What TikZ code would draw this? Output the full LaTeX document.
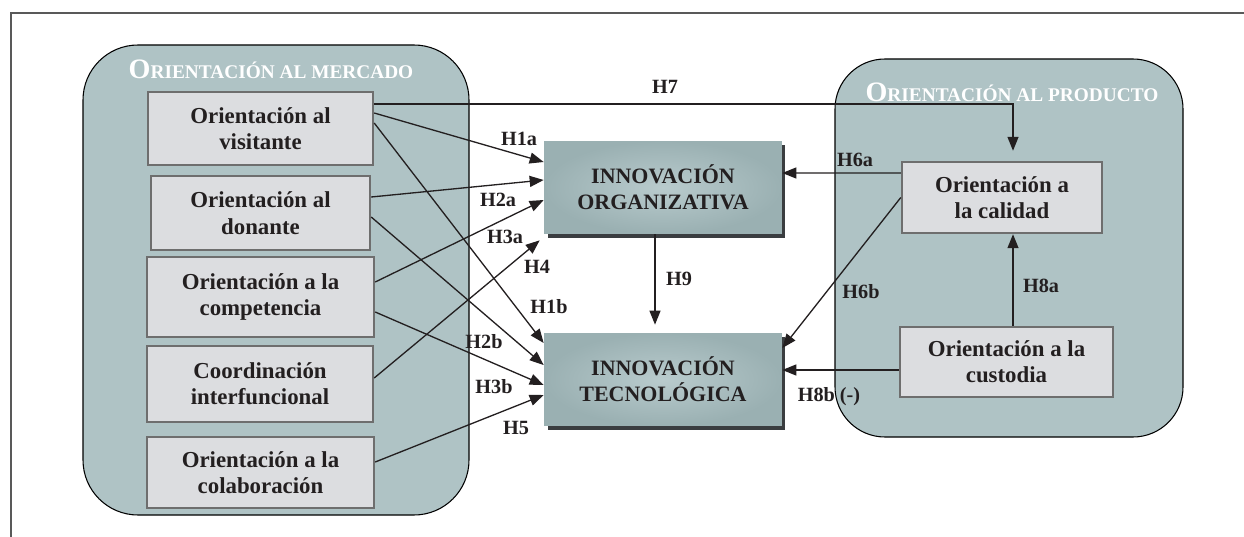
\documentclass[tikz,border=0pt]{standalone}
\usepackage{fontspec}
\setmainfont{Liberation Serif}
\usetikzlibrary{arrows.meta,shadows}
\definecolor{regfill}{HTML}{AFC3C5}
\definecolor{boxfill}{HTML}{DCDDE0}
\definecolor{boxline}{HTML}{6E6E6E}
\definecolor{innin}{HTML}{B9CBCD}
\definecolor{innout}{HTML}{9AB0B2}
\definecolor{shade}{HTML}{3A3D40}
\definecolor{ink}{HTML}{231F20}
\def\titulo#1#2{{\fontsize{16}{18}\selectfont #1}{\fontsize{11}{13}\selectfont #2}}

\begin{document}
\begin{tikzpicture}[x=0.02cm,y=-0.02cm,
		factor/.style={draw=boxline, line width=1.4pt, fill=boxfill, align=center, text=ink, font=\bfseries\fontsize{13}{15}\selectfont, inner sep=0pt},
		innov/.style={inner color=innin, outer color=innout, align=center, text=ink, font=\bfseries\fontsize{12.5}{15}\selectfont, minimum width=4.76cm, minimum height=1.86cm, drop shadow={shadow xshift=0.07cm, shadow yshift=-0.08cm, fill=shade, opacity=1}},
		hyp/.style={text=ink, font=\bfseries\fontsize{11.5}{13}\selectfont, inner sep=0pt},
		link/.style={draw=ink, line width=0.75pt, -{Triangle[length=0.28cm,width=0.22cm]}},
		region/.style={draw=black, line width=0.6pt, fill=regfill}]
		%%%%% START %%%%%
		\useasboundingbox (0,0) rectangle (1244,537);
		\draw[black!65, line width=0.85pt] (11,537) -- (11,13) -- (1244,13);
		
		% the two groups
		\draw[region, rounded corners=1.1cm] (83,45) rectangle (469,515);
		\draw[region, rounded corners=1cm] (835,59) rectangle (1183,437);
		\node[text=white, anchor=base, font=\bfseries] (tmerc) at (271,79) {\titulo{O}{RIENTACIÓN AL MERCADO}};
		\node[text=white, anchor=base, font=\bfseries] (tprod) at (1012,102) {\titulo{O}{RIENTACIÓN AL PRODUCTO}};
		
		\node[factor, minimum width=4.5cm, minimum height=1.46cm] (vis) at (260.5,128.5) {Orientación al\\visitante};
		\node[factor, minimum width=4.38cm, minimum height=1.48cm] (don) at (260.5,213) {Orientación al\\donante};
		\node[factor, minimum width=4.54cm, minimum height=1.6cm] (comp) at (260.5,297) {Orientación a la\\competencia};
		\node[factor, minimum width=4.52cm, minimum height=1.52cm] (coord) at (260,384) {Coordinación\\interfuncional};
		\node[factor, minimum width=4.54cm, minimum height=1.42cm] (colab) at (260.5,472.5) {Orientación a la\\colaboración};
		
		\node[factor, minimum width=4cm, minimum height=1.42cm] (cal) at (1002,197.5) {Orientación a\\la calidad};
		\node[factor, minimum width=4.26cm, minimum height=1.4cm] (cus) at (1006.5,362) {Orientación a la\\custodia};
		
		\node[innov] (org) at (663,187.5) {INNOVACIÓN\\ORGANIZATIVA};
		\node[innov] (tec) at (663,379.5) {INNOVACIÓN\\TECNOLÓGICA};
		
		% hypotheses
		\coordinate (turn) at (1013,104);
		\draw[link, shorten >=0.2cm] (vis.east |- turn) -- (turn) -- (cal.north -| turn);
		\draw[link] ([yshift=0.31cm]vis.east) -- ([yshift=0.51cm]org.west);
		\draw[link] ([yshift=0.11cm]vis.east) -- ([yshift=0.73cm]tec.west);
		\draw[link] ([yshift=0.32cm]don.east) -- ([yshift=0.15cm]org.west);
		\draw[link] ([yshift=-0.08cm]don.east) -- ([yshift=0.29cm]tec.west);
		\draw[link] ([yshift=0.3cm]comp.east) -- ([yshift=-0.25cm]org.west);
		\draw[link] ([yshift=-0.3cm]comp.east) -- ([yshift=-0.11cm]tec.west);
		\draw[link] ([yshift=0.12cm]coord.east) -- ([xshift=-0.08cm,yshift=-0.12cm]org.south west);
		\draw[link] ([yshift=0.21cm]colab.east) -- ([yshift=-0.31cm]tec.west);
		\draw[link, shorten >=0.16cm] ([xshift=-0.16cm]org.south) -- ([xshift=-0.16cm]tec.north);
		\draw[link] ([yshift=0.49cm]cal.west) -- ([yshift=0.29cm]org.east);
		\draw[link] (cal.west) -- ([yshift=0.63cm]tec.east);
		\draw[link] (cus.north -| turn) -- (cal.south -| turn);
		\draw[link] ([yshift=-0.16cm]cus.west) -- ([yshift=-0.16cm]cus.west -| tec.east);
		
		\node[hyp] (h7) at (665,87) {H7};
		\node[hyp] (h1a) at (519,139) {H1a};
		\node[hyp] (h2a) at (498,200) {H2a};
		\node[hyp] (h3a) at (505,237) {H3a};
		\node[hyp] (h4) at (537,267) {H4};
		\node[hyp] (h9) at (679,279) {H9};
		\node[hyp] (h1b) at (549,307) {H1b};
		\node[hyp] (h2b) at (484,342) {H2b};
		\node[hyp] (h3b) at (494,387) {H3b};
		\node[hyp] (h5) at (516,428) {H5};
		\node[hyp] (h6a) at (855,160) {H6a};
		\node[hyp] (h6b) at (861,292) {H6b};
		\node[hyp] (h8a) at (1041,286) {H8a};
		\node[hyp] (h8b) at (829,397) {H8b (-)};
		%%%%% END %%%%%
	\end{tikzpicture}
\end{document}
